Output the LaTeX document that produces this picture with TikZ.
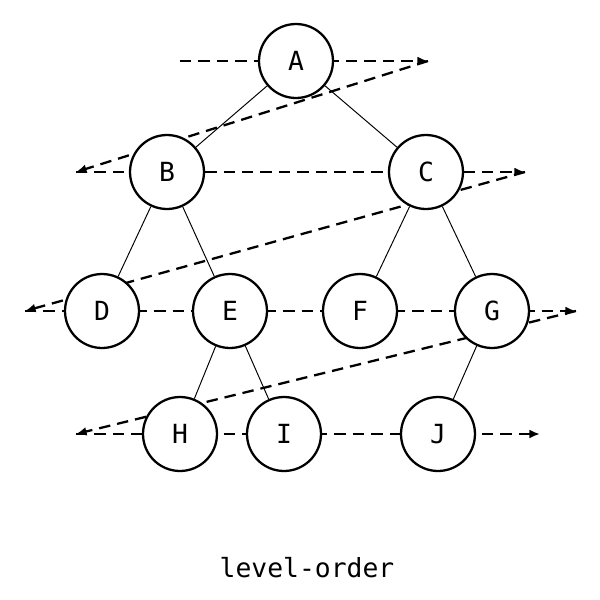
\documentclass[tikz,border=0pt]{standalone}
\usepackage{fontspec}
\setmonofont{DejaVu Sans Mono}
\usepackage{tikz}
\usetikzlibrary{arrows.meta}

\begin{document}
\begin{tikzpicture}[x=0.02cm, y=-0.02cm,
		vertex/.style={circle, draw, line width=1.3pt, fill=white, minimum size=1.48cm, inner sep=0pt, font=\ttfamily\fontsize{15}{15}\selectfont},
		treeedge/.style={line width=0.55pt},
		trav/.style={line width=1.3pt, dash pattern=on 6.5pt off 4pt, -{Latex[length=6pt,width=5pt]}}]
		\useasboundingbox (0,0) rectangle (600,600);

		% turning points of the traversal
		\coordinate (s0) at (180,61);
		\coordinate (t1) at (428,61);
		\coordinate (t2) at (76,172);
		\coordinate (t3) at (525,172);
		\coordinate (t4) at (25,311);
		\coordinate (t5) at (576,311);
		\coordinate (t6) at (76,434);
		\coordinate (t7) at (540,434);

		\draw[trav] (s0) -- (t1);
		\draw[trav] (t1) -- (t2);
		\draw[trav] (t2) -- (t3);
		\draw[trav] (t3) -- (t4);
		\draw[trav] (t4) -- (t5);
		\draw[trav] (t5) -- (t6);
		\draw[trav] (t6) -- (t7);

		% the tree
		\node[vertex] (A) at (296,61) {A};
		\node[vertex] (B) at (167,172) {B};
		\node[vertex] (C) at (426,172) {C};
		\node[vertex] (D) at (102,311) {D};
		\node[vertex] (E) at (230,311) {E};
		\node[vertex] (F) at (360,311) {F};
		\node[vertex] (G) at (492,311) {G};
		\node[vertex] (H) at (180,434) {H};
		\node[vertex] (I) at (284,434) {I};
		\node[vertex] (J) at (438,434) {J};

		\foreach \p/\c in {A/B, A/C, B/D, B/E, C/F, C/G, E/H, E/I, G/J}
		\draw[treeedge] (\p) -- (\c);

		\node[font=\ttfamily\fontsize{15}{15}\selectfont] (caption) at (307,568) {level-order};
	\end{tikzpicture}
\end{document}
